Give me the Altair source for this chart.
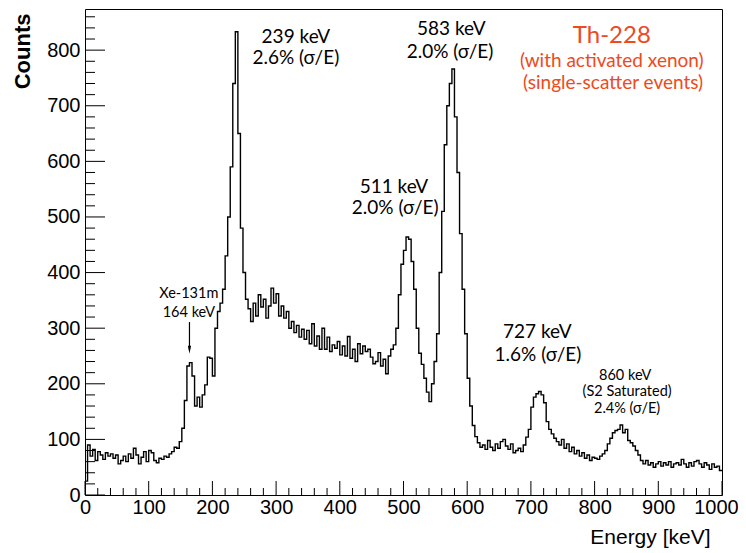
import altair as alt
import pandas as pd

# ---------------- data ----------------
BIN_WIDTH = 4  # keV
counts = [
    # 0 - 96 keV
    25, 90, 70, 82, 62, 78, 72, 64, 76, 70, 74, 66, 72, 56, 62, 70, 60, 74, 66, 84, 72, 56, 68, 78, 60,
    # 100 - 196 keV
    80, 76, 62, 58, 66, 64, 70, 68, 74, 78, 86, 84, 96, 120, 170, 232, 238, 214, 160, 176, 158, 180, 198, 248, 246,
    # 200 - 296 keV
    214, 300, 330, 345, 370, 430, 500, 590, 740, 833, 650, 480, 400, 352, 335, 312, 345, 322, 360, 338, 352, 318, 340, 372, 345,
    # 300 - 396 keV
    362, 322, 340, 318, 330, 300, 312, 292, 305, 284, 298, 280, 296, 272, 308, 268, 286, 262, 300, 262, 284, 258, 270, 264, 276,
    # 400 - 496 keV
    252, 268, 250, 285, 246, 262, 240, 272, 254, 268, 258, 262, 248, 236, 240, 256, 232, 244, 218, 250, 262, 270, 300, 360, 415,
    # 500 - 596 keV
    440, 464, 460, 420, 370, 300, 255, 235, 210, 185, 168, 200, 240, 290, 400, 510, 630, 700, 740, 766, 680, 580, 470, 370, 290,
    # 600 - 696 keV
    210, 160, 125, 105, 94, 86, 90, 82, 98, 86, 80, 92, 84, 96, 100, 88, 82, 92, 76, 80, 84, 78, 90, 104, 118,
    # 700 - 796 keV
    158, 176, 182, 186, 180, 166, 132, 118, 110, 102, 96, 90, 100, 84, 92, 78, 86, 74, 80, 70, 76, 66, 72, 62, 68,
    # 800 - 896 keV
    66, 64, 70, 74, 80, 92, 102, 112, 116, 118, 126, 112, 118, 98, 94, 88, 80, 72, 62, 56, 62, 54, 58, 50, 56,
    # 900 - 996 keV
    60, 52, 58, 54, 60, 50, 56, 58, 54, 64, 56, 50, 58, 52, 60, 62, 56, 50, 58, 54, 46, 56, 50, 52, 44,
]

x_major = [0, 100, 200, 300, 400, 500, 600, 700, 800, 900, 1000]
x_minor = [v for v in range(0, 1001, 20) if v % 100 != 0]
y_major = [0, 100, 200, 300, 400, 500, 600, 700, 800]
y_minor = [v for v in range(0, 861, 20) if v % 100 != 0]

peak_lines = ["239 keV", "2.6% (\u03c3/E)", "583 keV", "2.0% (\u03c3/E)",
              "511 keV", "2.0% (\u03c3/E)", "727 keV", "1.6% (\u03c3/E)"]
peak_x = [331, 331, 575, 573, 485, 487, 710, 711]
peak_y = [813, 775, 827, 786, 543, 505, 282, 241]

small_lines = ["860 keV", "(S2 Saturated)", "2.4% (\u03c3/E)", "Xe-131m", "164 keV"]
small_x = [848, 851, 851, 163, 163]
small_y = [207, 178, 147, 354, 320]

title_lines = ["Th-228", "(with activated xenon)", "(single-scatter events)"]
title_x = [827, 827, 829]
title_y = [813, 769, 730]

arrow_x = [164]
arrow_top = [311]
arrow_tip = [261]

# ---------------- chart ----------------
edges = [i * BIN_WIDTH for i in range(len(counts))] + [1000]
hist_df = pd.DataFrame({"energy": edges, "counts": counts + [counts[-1]]})

W, H = 637, 486
xs = alt.Scale(domain=[0, 1000], nice=False, zero=False)
ys = alt.Scale(domain=[0, 874], nice=False, zero=False)
LABEL_FONT = "Liberation Sans"
ANN_FONT = "Lato"
RED = "#ee4a1c"

x_axis = alt.Axis(
    values=x_major, ticks=False, domain=False, grid=False, format="d",
    labelFont=LABEL_FONT, labelFontSize=20, labelColor="black",
    labelPadding=2, labelFlush=False, labelOverlap=False,
    labelOffset={"condition": {"test": "datum.value === 1000", "value": -6}, "value": 0},
    title="Energy [keV]", titleFont=LABEL_FONT, titleFontSize=21,
    titleFontWeight="normal", titleColor="black", titleAlign="right",
    titleX=625, titleY=48, titleBaseline="alphabetic")
y_axis = alt.Axis(
    values=y_major, ticks=False, domain=False, grid=False, format="d",
    labelFont=LABEL_FONT, labelFontSize=20, labelColor="black",
    labelPadding=5, labelFlush=False, labelOverlap=False,
    title="Counts", titleFont=LABEL_FONT, titleFontSize=22,
    titleFontWeight="bold", titleColor="black", titleAngle=270,
    titleAlign="right", titleX=-63, titleY=4, titleBaseline="middle")


def X(field):
    return alt.X(field, scale=xs, axis=x_axis, title="Energy [keV]")


def Y(field):
    return alt.Y(field, scale=ys, axis=y_axis, title="Counts")


hist = alt.Chart(hist_df).mark_line(
    interpolate="step-after", color="black", strokeWidth=1.4
).encode(x=X("energy:Q"), y=Y("counts:Q"))


def xticks(vals, length):
    return alt.Chart(pd.DataFrame({"v": vals})).mark_rule(color="black", strokeWidth=1).encode(
        x=X("v:Q"), y=alt.value(H), y2=alt.value(H - length))


def yticks(vals, length):
    return alt.Chart(pd.DataFrame({"v": vals})).mark_rule(color="black", strokeWidth=1).encode(
        y=Y("v:Q"), x=alt.value(0), x2=alt.value(length))


def texts(xv, yv, tv, size, color):
    d = pd.DataFrame({"x": xv, "y": yv, "t": tv})
    return alt.Chart(d).mark_text(
        font=ANN_FONT, fontSize=size, color=color, align="center", baseline="alphabetic"
    ).encode(x=X("x:Q"), y=Y("y:Q"), text="t:N")


arrow_df = pd.DataFrame({"x": arrow_x, "top": arrow_top, "tip": arrow_tip})
arrow_shaft = alt.Chart(arrow_df).mark_rule(color="black", strokeWidth=1.2).encode(
    x=X("x:Q"), y=Y("top:Q"), y2="tip:Q")
arrow_head = alt.Chart(arrow_df).mark_point(
    shape="M-0.4,-1L0,1L0.4,-1Z", filled=True, color="black", opacity=1, size=64
).encode(x=X("x:Q"), y=Y("tip:Q"))

chart = alt.layer(
    hist,
    xticks(x_major, 14), xticks(x_minor, 7),
    yticks(y_major, 20), yticks(y_minor, 10),
    texts(peak_x, peak_y, peak_lines, 19, "black"),
    texts(small_x, small_y, small_lines, 14.5, "black"),
    texts(title_x[:1], title_y[:1], title_lines[:1], 24, RED),
    texts(title_x[1:], title_y[1:], title_lines[1:], 19, RED),
    arrow_shaft, arrow_head,
).properties(
    width=W, height=H,
    padding={"left": 77, "top": 1, "right": 16, "bottom": 57},
    autosize=alt.AutoSizeParams(type="none"),
    background="white",
).configure_view(stroke="black", strokeWidth=1)

chart.save("out.html", embed_options={"renderer": "svg", "actions": False})
